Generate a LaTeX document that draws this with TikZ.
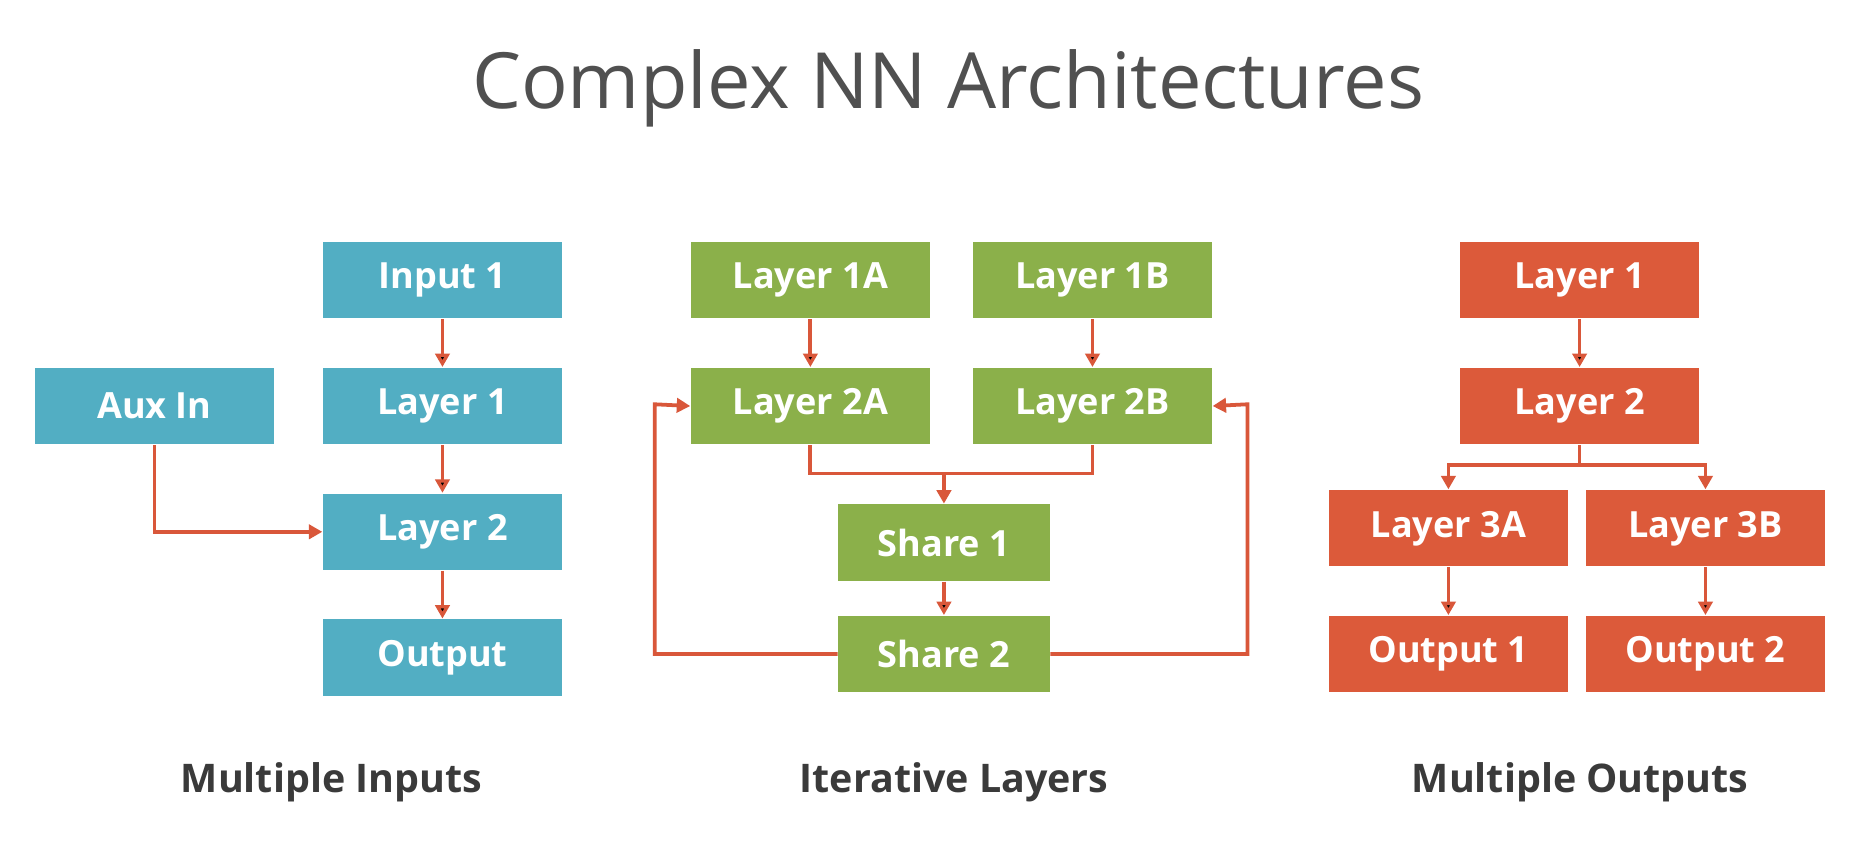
\documentclass[tikz,border=0pt]{standalone}
\usepackage{fontspec}
\setmainfont{Open Sans}
\usetikzlibrary{arrows.meta,positioning}

\definecolor{inblue}{HTML}{52AEC3}
\definecolor{itergreen}{HTML}{8BB04A}
\definecolor{outred}{HTML}{DC5A3A}
\definecolor{wirered}{HTML}{D9573A}
\definecolor{titlegray}{HTML}{505050}
\definecolor{capgray}{HTML}{3A3A3A}

\begin{document}
\begin{tikzpicture}[x=0.01cm,y=-0.01cm,node distance=0.4cm,
    >={Triangle[length=3.2pt,width=3.4pt]}]

    \tikzstyle{layer}=[rectangle,minimum width=2cm,minimum height=0.64cm,
        inner sep=0pt,text=white,font=\bfseries\fontsize{8.6}{10}\selectfont]
    \tikzstyle{in layer}=[layer,fill=inblue]
    \tikzstyle{iter layer}=[layer,fill=itergreen]
    \tikzstyle{share layer}=[iter layer,minimum width=1.77cm]
    \tikzstyle{out layer}=[layer,fill=outred]
    \tikzstyle{wire}=[draw=wirered,line width=0.9pt]
    \tikzstyle{caption}=[text=capgray,font=\bfseries\fontsize{9.4}{11}\selectfont]

    \useasboundingbox[fill=white] (0,0) rectangle (1568,716);

    \node[text=titlegray,font=\fontsize{18.5}{22}\selectfont] (title) at (795,74)
        {Complex NN Architectures};

    % multiple inputs
    \node[in layer] (in_1)   at (371,235)            {Input 1};
    \node[in layer] (in_l1)  [below=of in_1]         {Layer 1};
    \node[in layer] (in_aux) [left=of in_l1]         {Aux In};
    \node[in layer] (in_l2)  [below=of in_l1]        {Layer 2};
    \node[in layer] (in_out) [below=of in_l2]        {Output};

    \path[wire,->]
    (in_1)   edge (in_l1)
    (in_l1)  edge (in_l2)
    (in_l2)  edge (in_out);
    \draw[wire,->] (in_aux) |- (in_l2);

    % iterative layers
    \node[iter layer] (it_1a) at (679.5,235)            {Layer 1A};
    \node[iter layer] (it_1b) [right=0.35cm of it_1a]   {Layer 1B};
    \node[iter layer] (it_2a) [below=of it_1a]          {Layer 2A};
    \node[iter layer] (it_2b) [below=of it_1b]          {Layer 2B};
    \node[share layer] (it_s1) at (791.5,455)           {Share 1};
    \node[share layer] (it_s2) [below=0.28cm of it_s1]  {Share 2};

    \coordinate (merge) at (791.5,397);
    \coordinate (loop_l) at (549,339);
    \coordinate (loop_r) at (1046,339);

    \path[wire,->]
    (it_1a) edge (it_2a)
    (it_1b) edge (it_2b)
    (it_s1) edge (it_s2);
    \draw[wire] (it_2a.south) |- (merge) -| (it_2b.south);
    \draw[wire,->] (merge) -- (it_s1.north);
    \draw[wire,->] (it_s2.west) -| (loop_l) -- (it_2a.west);
    \draw[wire,->] (it_s2.east) -| (loop_r) -- (it_2b.east);

    % multiple outputs
    \node[out layer] (out_l1) at (1324.5,235)          {Layer 1};
    \node[out layer] (out_l2) [below=of out_l1]        {Layer 2};
    \node[out layer] (out_3a) at (1214.5,443)          {Layer 3A};
    \node[out layer] (out_3b) [right=0.14cm of out_3a] {Layer 3B};
    \node[out layer] (out_o1) [below=of out_3a]        {Output 1};
    \node[out layer] (out_o2) [below=of out_3b]        {Output 2};

    \coordinate (split) at (1324.5,390);

    \path[wire,->]
    (out_l1) edge (out_l2)
    (out_3a) edge (out_o1)
    (out_3b) edge (out_o2);
    \draw[wire] (out_l2) -- (split);
    \draw[wire,->] (split) -| (out_3a);
    \draw[wire,->] (split) -| (out_3b);

    % captions
    \node[caption] (cap_in)   at (278,656)  {Multiple Inputs};
    \node[caption] (cap_iter) at (800,656)  {Iterative Layers};
    \node[caption] (cap_out)  at (1325,656) {Multiple Outputs};
\end{tikzpicture}
\end{document}
